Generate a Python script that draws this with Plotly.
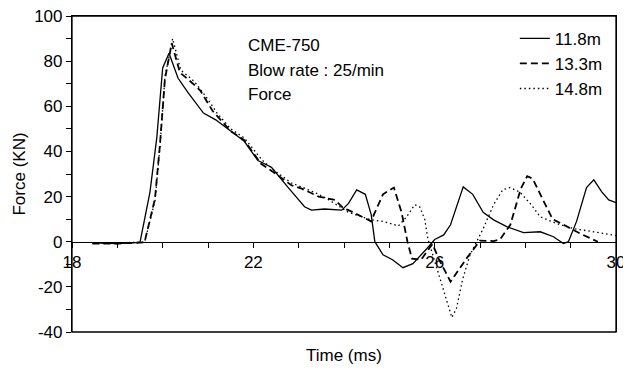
import plotly.graph_objects as go

# ---- data ----
t_118 = [18.45, 19.0, 19.5, 19.72, 19.87, 20.0, 20.14, 20.34, 20.56, 20.9, 21.17, 21.5, 21.8,
         22.1, 22.4, 22.77, 23.13, 23.28, 23.57, 23.95, 24.1, 24.28, 24.47, 24.6, 24.68, 24.86,
         25.07, 25.3, 25.52, 25.83, 26.0, 26.2, 26.35, 26.63, 26.84, 27.07, 27.3, 27.6, 27.96,
         28.33, 28.62, 28.84, 28.95, 29.13, 29.35, 29.51, 29.69, 29.84, 30.0]
f_118 = [-0.5, -0.8, -0.3, 22, 46, 77, 83.5, 72.4, 66, 57, 54, 49, 44.5,
         36, 33, 24, 15.5, 14, 14.5, 14, 17, 23, 21, 12, 0, -5.8,
         -8, -11.5, -9.7, -3, 1, 3, 7.5, 24.3, 21, 13, 9.7, 6.6, 4,
         4.4, 2.2, -0.8, 0, 9, 24, 27.4, 22, 18.5, 17.3]

t_133 = [18.45, 19.0, 19.6, 19.83, 19.94, 20.05, 20.2, 20.38, 20.67, 20.83, 21.1, 21.5, 21.8,
         22.17, 22.5, 22.84, 23.07, 23.44, 23.8, 24.0, 24.1, 24.4, 24.6, 24.66, 24.86, 25.1,
         25.27, 25.4, 25.5, 25.7, 25.85, 25.95, 26.1, 26.35, 26.7, 27.0, 27.3, 27.44, 27.67,
         27.9, 28.04, 28.16, 28.33, 28.6, 28.93, 29.22, 29.6]
f_133 = [-0.8, -0.8, -0.3, 19, 43, 72, 88, 75, 70, 67, 58, 49, 45,
         34.5, 30, 25, 23.5, 20, 18.5, 14.6, 14, 11, 9, 12, 21, 24,
         13, 0, -7.5, -8, -4, -1, -8, -17.7, -7.5, 0.5, 0.3, 1, 7.5,
         23.5, 29, 28, 21, 10, 6.6, 3.5, 0]

t_148 = [18.45, 19.0, 19.6, 19.83, 19.94, 20.05, 20.22, 20.4, 20.7, 21.0, 21.2, 21.5, 21.8,
         22.2, 22.5, 22.84, 23.1, 23.44, 23.67, 24.1, 24.6, 24.86, 25.2, 25.38, 25.56, 25.67,
         25.78, 25.85, 26.05, 26.27, 26.38, 26.48, 26.62, 26.78, 26.9, 27.07, 27.3, 27.5,
         27.66, 27.88, 28.13, 28.33, 28.7, 29.07, 29.5, 30.0]
f_148 = [-0.5, -0.5, -0.3, 18, 42, 73, 90, 76, 71, 63, 57, 50, 46,
         36, 31, 26, 24, 21, 18.5, 13, 9.7, 9, 7, 11, 16.4, 15.5,
         10, 1.3, -12, -26.5, -33.6, -29.6, -16.4, -5.8, -1, 5.8, 16.4, 23,
         24, 22, 16.4, 11, 8, 5.8, 4.4, 2.7]

series_names = ["11.8m", "13.3m", "14.8m"]
annotation_lines = ["CME-750", "Blow rate : 25/min", "Force"]
x_title = "Time (ms)"
y_title = "Force (KN)"

# tick marks every 1 ms / 10 kN, labels every 4 ms / 20 kN
x_tickvals = list(range(18, 31))
x_ticktext = [str(v) if (v - 18) % 4 == 0 else "" for v in x_tickvals]
y_tickvals = list(range(-40, 101, 10))
y_ticktext = [str(v) if v % 20 == 0 else "" for v in y_tickvals]

FONT = "Liberation Sans, Arial, Helvetica, sans-serif"
FS = 17
Y_RANGE = [-40, 100]
X_RANGE = [18, 30]

fig = go.Figure()
fig.add_trace(go.Scatter(x=t_118, y=f_118, mode="lines", name=series_names[0],
                         line=dict(color="black", width=1.3)))
fig.add_trace(go.Scatter(x=t_133, y=f_133, mode="lines", name=series_names[1],
                         line=dict(color="black", width=1.8, dash="7px,4px")))
fig.add_trace(go.Scatter(x=t_148, y=f_148, mode="lines", name=series_names[2],
                         line=dict(color="black", width=1.3, dash="1.5px,3px")))
# empty trace on the frame axes (top / right lines of the box)
fig.add_trace(go.Scatter(x=[None], y=[None], xaxis="x2", yaxis="y2",
                         showlegend=False, hoverinfo="skip"))

zero_frac = (0 - Y_RANGE[0]) / (Y_RANGE[1] - Y_RANGE[0])

# The page body adds an 8px offset; plot area lands at window px x 72..616, y 16..332
fig.update_layout(
    width=631, height=376,
    margin=dict(l=64, r=23, t=8, b=52),
    paper_bgcolor="white", plot_bgcolor="rgba(0,0,0,0)",
    font=dict(family=FONT, size=FS, color="black"),
    showlegend=True,
    legend=dict(x=0.985, xanchor="right", y=0.985, yanchor="top",
                bgcolor="rgba(0,0,0,0)", font=dict(size=FS), itemwidth=30,
                tracegroupgap=0),
    xaxis=dict(range=X_RANGE, tickmode="array", tickvals=x_tickvals, ticktext=x_ticktext,
               anchor="free", position=zero_frac,
               showline=True, linecolor="black", linewidth=1.2,
               ticks="outside", ticklen=5, tickcolor="black", tickwidth=1,
               showgrid=False, zeroline=False, automargin=False,
               ticklabeloverflow="allow", tickfont=dict(size=FS)),
    yaxis=dict(range=Y_RANGE, tickmode="array", tickvals=y_tickvals, ticktext=y_ticktext,
               showline=True, mirror=True,
               linecolor="black", linewidth=1.2,
               ticks="outside", ticklen=5, tickcolor="black", tickwidth=1,
               showgrid=False, zeroline=False, automargin=False,
               ticklabeloverflow="allow", tickfont=dict(size=FS),
               title=dict(text=y_title, standoff=4, font=dict(size=FS))),
    xaxis2=dict(range=X_RANGE, overlaying="x", side="top", anchor="y2",
                showline=True, linecolor="black", linewidth=1.3,
                ticks="", showticklabels=False, showgrid=False, zeroline=False),
    yaxis2=dict(range=Y_RANGE, overlaying="y", side="right", anchor="x2",
                showline=True, linecolor="black", linewidth=1.3,
                ticks="", showticklabels=False, showgrid=False, zeroline=False),
    shapes=[dict(type="rect", xref="paper", yref="paper", x0=0, y0=0, x1=1, y1=1,
                 line=dict(color="black", width=1.3), layer="above")],
)

H = 316.0
def ypx(py):
    return (332 - py) / H

for i, txt in enumerate(annotation_lines):
    fig.add_annotation(text=txt, xref="x", yref="paper", x=21.84, y=ypx(46 + 24 * i),
                       xanchor="left", yanchor="middle", showarrow=False,
                       font=dict(size=FS))

fig.add_annotation(text=x_title, xref="paper", yref="paper", x=0.5, y=ypx(355),
                   xanchor="center", yanchor="middle", showarrow=False,
                   font=dict(size=FS))

fig.write_html("out.html")
